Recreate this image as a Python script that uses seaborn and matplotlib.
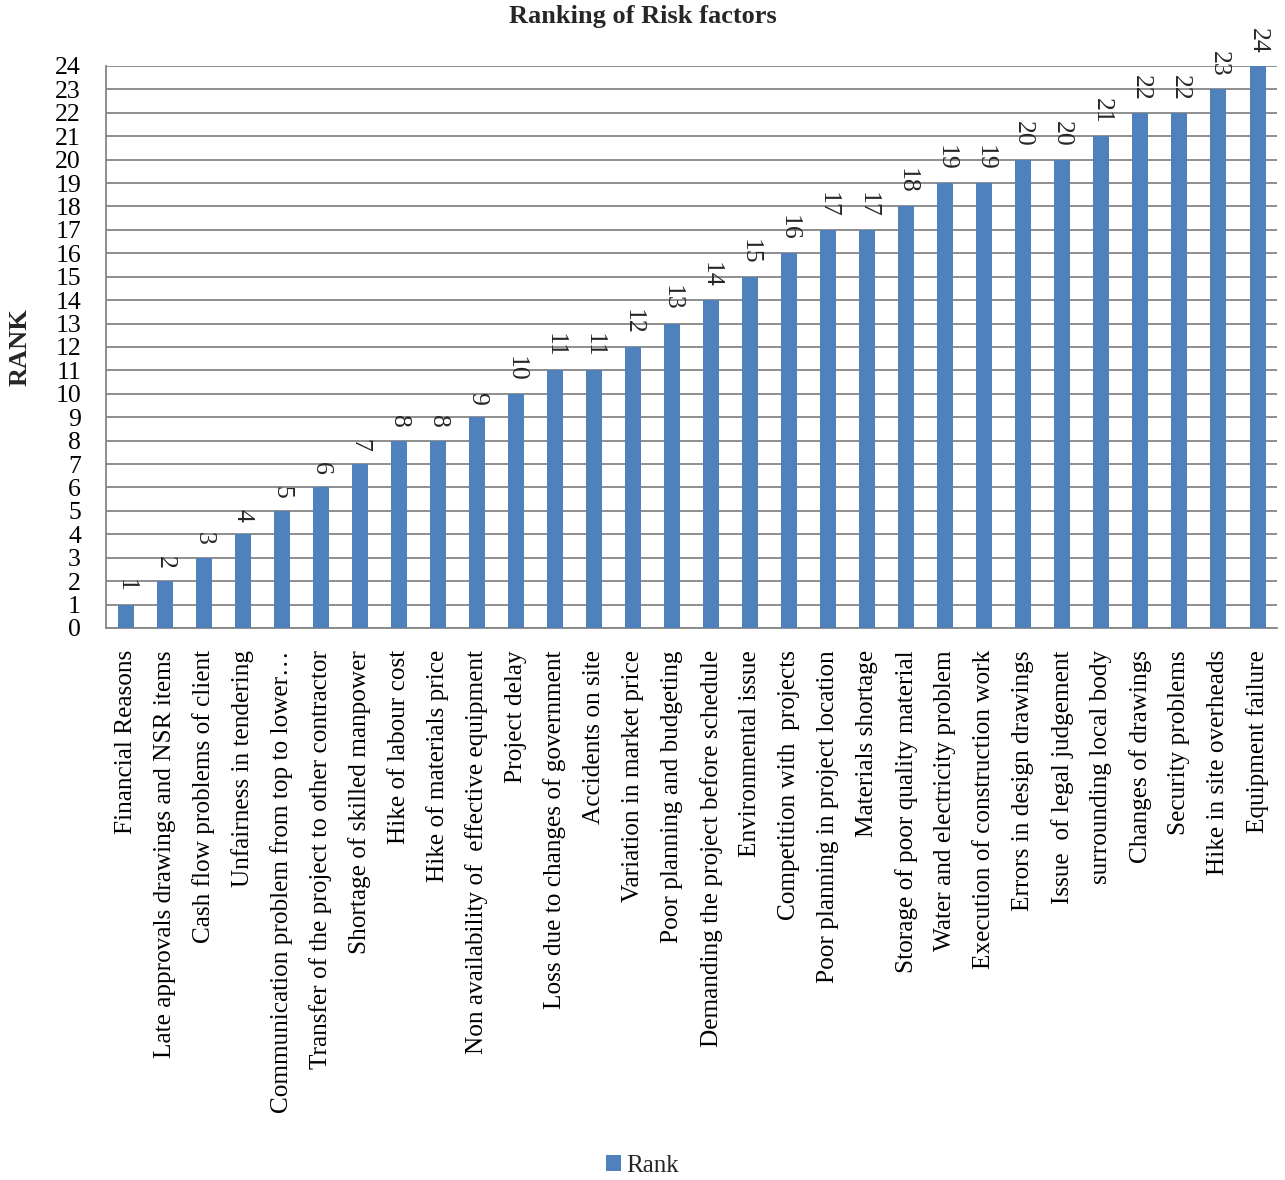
import matplotlib
matplotlib.use("Agg")
import matplotlib.pyplot as plt
import seaborn as sns
import pandas as pd
from matplotlib.patches import Patch

categories = [
    "Financial Reasons",
    "Late approvals drawings and NSR items",
    "Cash flow problems of client",
    "Unfairness in tendering",
    "Communication problem from top to lower\u2026",
    "Transfer of the project to other contractor",
    "Shortage of skilled manpower",
    "Hike of labour cost",
    "Hike of materials price",
    "Non availability of  effective equipment",
    "Project delay",
    "Loss due to changes of government",
    "Accidents on site",
    "Variation in market price",
    "Poor planning and budgeting",
    "Demanding the project before schedule",
    "Environmental issue",
    "Competition with  projects",
    "Poor planning in project location",
    "Materials shortage",
    "Storage of poor quality material",
    "Water and electricity problem",
    "Execution of construction work",
    "Errors in design drawings",
    "Issue  of legal judgement",
    "surrounding local body",
    "Changes of drawings",
    "Security problems",
    "Hike in site overheads",
    "Equipment failure",
]
ranks = [1, 2, 3, 4, 5, 6, 7, 8, 8, 9, 10, 11, 11, 12, 13, 14, 15, 16, 17, 17,
         18, 19, 19, 20, 20, 21, 22, 22, 23, 24]
yticks = list(range(0, 25))

sns.set_theme(style="white")
plt.rcParams["font.family"] = ["Liberation Serif", "DejaVu Serif"]

df = pd.DataFrame({"factor": categories, "Rank": ranks})
bar_color = "#4F81BD"
grid_color = "#868686"

fig = plt.figure(figsize=(12.85, 11.8), dpi=100)
ax = fig.add_axes([0.0825, 0.4678, 0.9113, 0.4763])

sns.barplot(data=df, x="factor", y="Rank", color=bar_color, saturation=1,
            width=0.41, ax=ax, zorder=3, linewidth=0, edgecolor="none")

ax.set_ylim(0, 24)
ax.set_xlim(-0.5, len(categories) - 0.5)
ax.set_yticks(yticks)
ax.set_yticklabels([str(v) for v in yticks], fontsize=18.5)
ax.yaxis.grid(True, color=grid_color, linewidth=1.3, zorder=0)
ax.set_axisbelow(True)

ax.set_xticks(range(len(categories)))
ax.set_xticklabels(categories, rotation=90, fontsize=18.2, ha="center", va="top")
ax.set_xticks([i - 0.5 for i in range(len(categories) + 1)], minor=True)
ax.tick_params(axis="x", which="major", length=0, pad=16)
ax.tick_params(axis="x", which="minor", length=6, width=1.3, color=grid_color, direction="out")
ax.tick_params(axis="y", which="major", length=6, width=1.3, color=grid_color, direction="out", pad=12)
ax.tick_params(axis="both", labelcolor="black")

for side in ["top", "right"]:
    ax.spines[side].set_visible(False)
for side in ["left", "bottom"]:
    ax.spines[side].set_color(grid_color)
    ax.spines[side].set_linewidth(1.3)

ax.set_xlabel("")
ax.set_ylabel("RANK", fontsize=19, fontweight="bold", labelpad=17)

for container in ax.containers:
    ax.bar_label(container, labels=[str(v) for v in ranks], rotation=270,
                 fontsize=18.5, padding=9, clip_on=False)

fig.suptitle("Ranking of Risk factors", fontsize=19, fontweight="bold", y=0.9955, va="top")

handle = Patch(facecolor=bar_color, edgecolor="none")
fig.legend([handle], ["Rank"], loc="center", bbox_to_anchor=(0.5, 0.012),
           frameon=False, fontsize=18, handlelength=0.6, handleheight=0.6,
           handletextpad=0.2)

fig.savefig("out.png", dpi=100)
